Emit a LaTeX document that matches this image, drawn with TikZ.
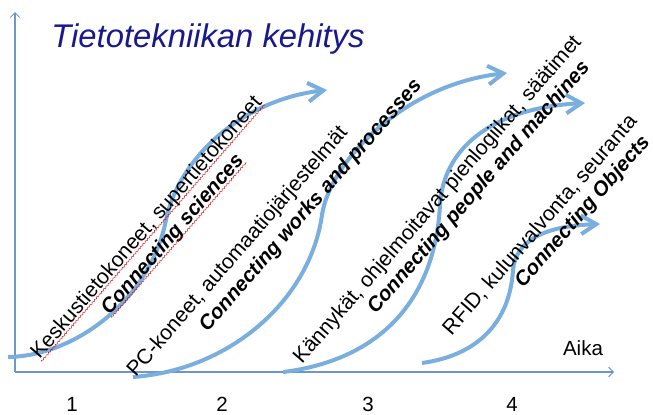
\documentclass[tikz,border=0pt]{standalone}
\usepackage{fontspec}
\setmainfont{Liberation Sans}
\usetikzlibrary{arrows.meta, decorations.pathmorphing, calc}

\definecolor{axisblue}{RGB}{110,150,200}
\definecolor{waveblue}{RGB}{122,174,222}
\definecolor{titleblue}{RGB}{25,25,140}

\begin{document}
\begin{tikzpicture}[x=0.03cm, y=-0.03cm,
    axisline/.style={draw=axisblue, line width=0.9pt, -{Straight Barb[length=4pt, width=8pt]}},
    wave/.style={draw=waveblue, line width=3.4pt, -{Straight Barb[length=13pt, width=16pt]}},
    lbl/.style={rotate=49, inner sep=0pt, font=\fontsize{18}{21}\selectfont},
    tagline/.style={rotate=49, inner sep=0pt, font=\fontsize{17.5}{20}\selectfont\bfseries\itshape},
    num/.style={anchor=base, inner sep=0pt, font=\fontsize{17.5}{20}\selectfont},
    title/.style={anchor=base, inner sep=0pt, text=titleblue, font=\fontsize{28}{32}\selectfont\itshape},
    squig/.style={draw=red!85!black, line width=0.4pt, decorate,
                  decoration={snake, amplitude=0.6pt, segment length=3pt}}
]
\useasboundingbox (0,0) rectangle (653,414);

\node[title] (head) at (208,47) {Tietotekniikan kehitys};

% axes
\coordinate (o)    at (15,372);
\coordinate (ytop) at (15,12);
\coordinate (xend) at (614,372);
\draw[axisline] (o) -- (ytop);
\draw[axisline] (o) -- (xend);
\node[num] (aika) at (583,355) {Aika};
\foreach \n/\x in {1/72, 2/222, 3/368, 4/512}
    \node[num] (n\n) at (\x,411) {\n};

% growth curves
\coordinate (c1s) at (8,357);   \coordinate (c1m) at (166,220); \coordinate (c1e) at (327,90);
\coordinate (c2s) at (133,377); \coordinate (c2m) at (322,215); \coordinate (c2e) at (507,73);
\coordinate (c3s) at (283,372); \coordinate (c3m) at (440,205); \coordinate (c3e) at (585,103);
\coordinate (c4s) at (422,363); \coordinate (c4m) at (513,270); \coordinate (c4e) at (600,224);
\draw[wave] (c1s) .. controls (75,356) and (150,300) .. (c1m) .. controls (178,160) and (240,100) .. (c1e);
\draw[wave] (c2s) .. controls (230,370) and (310,300) .. (c2m) .. controls (329,165) and (400,85) .. (c2e);
\draw[wave] (c3s) .. controls (380,360) and (435,300) .. (c3m) .. controls (443,150) and (490,108) .. (c3e);
\draw[wave] (c4s) .. controls (480,355) and (510,320) .. (c4m) .. controls (516,240) and (545,226) .. (c4e);

% labels
\node[lbl]     (k1) at (147,228) {Keskustietokoneet, supertietokoneet};
\node[tagline] (t1) at (173,235) {Connecting sciences};
\node[lbl]     (k2) at (238,252) {PC-koneet, automaatiojärjestelmät};
\node[tagline] (t2) at (311,206) {Connecting works and processes};
\node[lbl]     (k3) at (438,200) {Kännykät, ohjelmoitavat pienlogiikat, säätimet};
\node[tagline] (t3) at (479,188) {Connecting people and machines};
\node[lbl]     (k4) at (540,225) {RFID, kulunvalvonta, seuranta};
\node[tagline] (t4) at (583,212) {Connecting Objects};

% spell-check marks
\draw[squig] ($(k1.base west)!2pt!-90:(k1.base east)$) -- ($(k1.base east)!2pt!90:(k1.base west)$);
\draw[squig] ($(t1.base west)!2pt!-90:(t1.base east)$) -- ($(t1.base east)!2pt!90:(t1.base west)$);
\end{tikzpicture}
\end{document}
